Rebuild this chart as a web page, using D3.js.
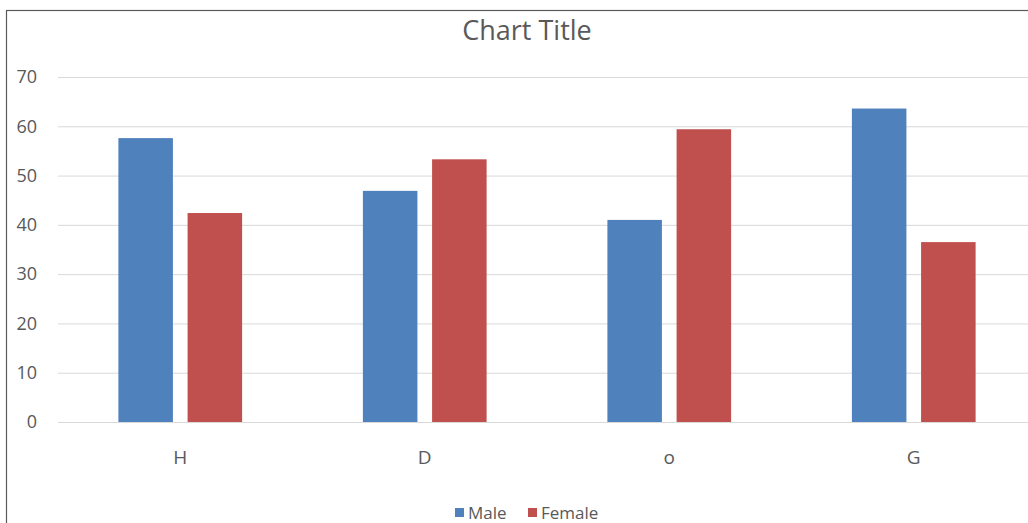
<!DOCTYPE html>
<html>
<head>
<meta charset="utf-8">
<script src="https://cdn.jsdelivr.net/npm/d3@7"></script>
<style>
  html, body { margin: 0; padding: 0; background: #fff; }
  svg { display: block; }
  text { font-family: "Open Sans", "Liberation Sans", sans-serif; fill: #595959; }
</style>
</head>
<body>
<div id="chart"></div>
<script>
// Category labels and series values
const categories = ["H", "D", "o", "G"];
const maleValues = [57.6, 46.9, 41.0, 63.6];
const femaleValues = [42.4, 53.3, 59.4, 36.5];
const seriesNames = ["Male", "Female"];
const seriesColors = ["#4F81BD", "#C0504D"];
const yTicks = [0, 10, 20, 30, 40, 50, 60, 70];
const chartTitle = "Chart Title";

const W = 1028, H = 523;
const margin = { left: 58, right: -8, top: 77, bottom: 101 };

const svg = d3.select("#chart").append("svg")
  .attr("width", W).attr("height", H);

// outer chart frame (runs past the right and bottom edges)
svg.append("rect")
  .attr("x", 6.5).attr("y", 10.5)
  .attr("width", W + 40).attr("height", H + 40)
  .attr("fill", "#fff").attr("stroke", "#5a5a5a").attr("stroke-width", 1.2);

const x0 = d3.scaleBand()
  .domain(categories)
  .range([margin.left, W - margin.right])
  .paddingInner(0).paddingOuter(0);

const y = d3.scaleLinear()
  .domain([0, 70])
  .range([H - margin.bottom, margin.top]);

// value axis with grid lines
const yAxis = d3.axisLeft(y).tickValues(yTicks)
  .tickSize(-(x0.range()[1] - x0.range()[0])).tickPadding(21);
const gy = svg.append("g")
  .attr("transform", `translate(${margin.left},0)`)
  .call(yAxis);
gy.select(".domain").remove();
gy.selectAll(".tick line").attr("stroke", "#d9d9d9").attr("stroke-width", 1);
gy.selectAll(".tick text")
  .attr("font-size", 18).attr("fill", "#666")
  .style("font-family", "'Open Sans', sans-serif");

// clustered bars
const step = x0.step();
const barW = step * 0.223;
const barGap = step * 0.06;
const groupW = barW * 2 + barGap;

const series = [maleValues, femaleValues];
series.forEach((vals, si) => {
  svg.append("g").selectAll("rect")
    .data(categories.map((c, i) => ({ c, v: vals[i] })))
    .join("rect")
    .attr("x", d => x0(d.c) + step / 2 - groupW / 2 + si * (barW + barGap))
    .attr("y", d => y(d.v))
    .attr("width", barW)
    .attr("height", d => y(0) - y(d.v))
    .attr("fill", seriesColors[si]);
});

// category axis
const xAxis = d3.axisBottom(x0).tickSize(0).tickPadding(29);
const gx = svg.append("g")
  .attr("transform", `translate(0,${y(0)})`)
  .call(xAxis);
gx.select(".domain").attr("stroke", "#d9d9d9").attr("stroke-width", 1.2);
gx.selectAll(".tick text")
  .attr("font-size", 19).attr("fill", "#595959")
  .style("font-family", "'Open Sans', sans-serif");

// title
svg.append("text")
  .attr("x", 527).attr("y", 40)
  .attr("text-anchor", "middle")
  .attr("font-size", 27)
  .style("font-family", "'Open Sans', sans-serif")
  .text(chartTitle);

// legend
const legend = svg.append("g").attr("transform", "translate(455,513)");
const legendX = [0, 73];
seriesNames.forEach((name, i) => {
  const g = legend.append("g").attr("transform", `translate(${legendX[i]},0)`);
  g.append("rect").attr("x", 0).attr("y", -5).attr("width", 9).attr("height", 9)
    .attr("fill", seriesColors[i]);
  g.append("text").attr("x", 13).attr("y", 6)
    .attr("font-size", 17)
    .style("font-family", "'Open Sans', sans-serif")
    .text(name);
});
</script>
</body>
</html>
